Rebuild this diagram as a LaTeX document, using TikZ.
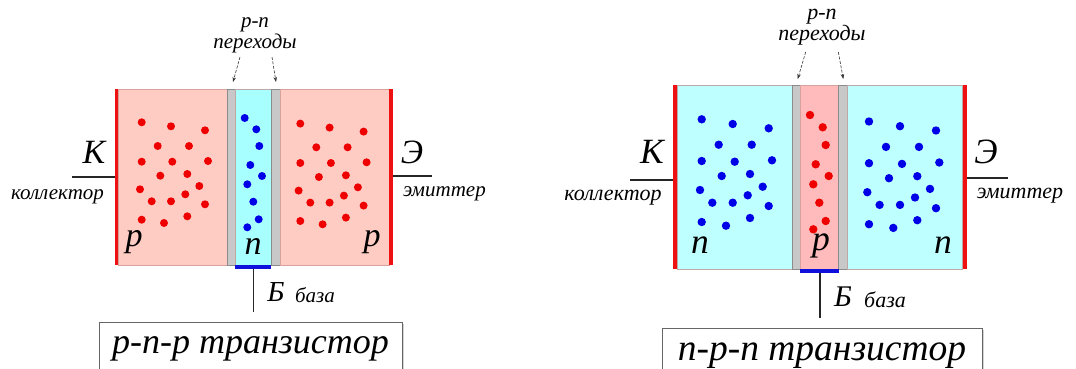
\documentclass[tikz,border=0pt]{standalone}
\usepackage{fontspec}
\setmainfont{Liberation Serif}
\usetikzlibrary{arrows.meta,shadows}

\definecolor{pfill}{HTML}{FFCCC4}
\definecolor{pfillB}{HTML}{FFBBBB}
\definecolor{pedge}{HTML}{D8A29C}
\definecolor{nfill}{HTML}{A8FFFF}
\definecolor{nfillB}{HTML}{BEFFFF}
\definecolor{nedge}{HTML}{C0A8A8}
\definecolor{jfill}{HTML}{C8C8C8}
\definecolor{jedge}{HTML}{8C8C8C}
\definecolor{contact}{HTML}{EE1111}
\definecolor{hole}{HTML}{EE0000}
\definecolor{electron}{HTML}{0000E6}
\definecolor{basecontact}{HTML}{1010DD}

\tikzset{
  pzone/.style={fill=pfill,draw=pedge,line width=0.8pt},
  nzone/.style={fill=nfill,draw=nedge,line width=0.8pt},
  junction/.style={fill=jfill,draw=jedge,line width=0.8pt},
  electrode/.style={fill=contact,draw=none},
  lead/.style={draw=black!85,line width=1.1pt},
  pointer/.style={draw=black!80,line width=0.6pt,dashed,dash pattern=on 3pt off 1.5pt,-{Stealth[length=5pt,width=3.5pt]}},
  lbl/.style={inner sep=0pt},
  term/.style={lbl,font=\fontsize{34}{34}\selectfont\itshape},
  zonelbl/.style={lbl,font=\fontsize{34}{34}\selectfont\itshape},
  small/.style={lbl,font=\fontsize{21}{21}\selectfont\itshape},
  basel/.style={lbl,font=\fontsize{29}{29}\selectfont\itshape},
  titlebox/.style={draw=black!60,fill=white,line width=0.8pt,
    drop shadow={shadow xshift=2pt,shadow yshift=-2pt,opacity=0.35}},
  title/.style={lbl,font=\fontsize{36}{36}\selectfont\itshape},
  holedot/.style={fill=hole,draw=none},
  edot/.style={fill=electron,draw=none},
}

\begin{document}
\begin{tikzpicture}[x=1pt,y=-1pt]
\useasboundingbox (0,0) rectangle (1076,369);
\clip (0,0) rectangle (1076,369);

% ---------------- p-n-p ----------------
\fill[electrode] (114.5,89) rectangle (118.5,265);
\draw[pzone] (118.5,89) rectangle (227,265);
\draw[junction] (227,89) rectangle (235,265);
\draw[nzone] (235,89) rectangle (271,265);
\draw[junction] (271,89) rectangle (280,265);
\draw[pzone] (280,89) rectangle (389,265);
\fill[electrode] (389,89) rectangle (393,265);
\fill[basecontact] (235,265) rectangle (271,268.5);

\foreach \x/\y in {141.7/122.3,171/126.3,205/130.3,157.7/146,189/146,141.7/161.7,
  172.3/161.7,208/161,160.3/175.7,187.3/174,140/189.3,199.3/186,151.7/201.3,
  171/201.3,185.3/194.3,205/204.3,141.7/219.7,164/223,187.3/216.3}
  {\fill[holedot] (\x,\y) circle (4); \fill[holedot] (\x+158.6,\y+1.3) circle (4);}
\foreach \x/\y in {244.7/118,256.3/129.3,259.3/146,250.3/165,262/176,247.3/184.3,
  253.3/201.7,258.7/219.3,247.3/227.3}
  {\fill[edot] (\x,\y) circle (4);}

\node[zonelbl] (a-pl) at (134,242) {p};
\node[zonelbl] (a-n) at (253,246) {n};
\node[zonelbl] (a-pr) at (372,242) {p};

\coordinate (a-kend) at (72,177);
\coordinate (a-kbar) at (114.5,177);
\node[term] (a-k) at (94,152) {К};
\node[small] (a-kname) at (57.5,197) {коллектор};
\draw[lead] (a-kend) -- (a-kbar);

\coordinate (a-ebar) at (393,176);
\coordinate (a-eend) at (432,176);
\node[term] (a-e) at (412,152) {Э};
\node[small] (a-ename) at (444.5,194) {эмиттер};
\draw[lead] (a-ebar) -- (a-eend);

\coordinate (a-btop) at (253.5,268.5);
\coordinate (a-bend) at (253.5,312);
\draw[lead] (a-btop) -- (a-bend);
\node[basel] (a-b) at (276,292) {Б};
\node[small] (a-bname) at (315,295) {база};

\node[small] (a-pn) at (255,25) {p-n};
\node[small] (a-jn) at (255,43) {переходы};
\coordinate (a-j1) at (233,82);
\coordinate (a-j2) at (276,82);
\draw[pointer] (240,57) -- (a-j1);
\draw[pointer] (272,57) -- (a-j2);

\draw[titlebox] (99,322) rectangle (402,385);
\node[title] (a-title) at (250.5,349) {p-n-p транзистор};

% ---------------- n-p-n ----------------
\begin{scope}[nzone/.append style={fill=nfillB},pzone/.append style={fill=pfillB}]
\fill[electrode] (672.5,85) rectangle (677,269);
\draw[nzone] (677,85) rectangle (792,269);
\draw[junction] (792,85) rectangle (800,269);
\draw[pzone] (800,85) rectangle (838.5,269);
\draw[junction] (838.5,85) rectangle (847,269);
\draw[nzone] (847,85) rectangle (962.5,269);
\fill[electrode] (962.5,85) rectangle (967,269);
\fill[basecontact] (800,269) rectangle (838.5,273);
\end{scope}

\foreach \x/\y in {701.7/119.3,732.7/124,768.7/128.3,718.7/144.7,751.7/144.7,
  701.7/161,734.7/161.7,772/160.3,721.7/176,750/174,700/190,762.7/186.7,
  712.3/202.7,732.7/202.7,747.7/195.3,768.7/206,701.7/222,726/225.7,750/218}
  {\fill[edot] (\x,\y) circle (4.2); \fill[edot] (\x+167.3,\y+2.2) circle (4.2);}
\foreach \x/\y in {810/115,822.7/127.3,825.7/145,815.7/164.3,828.7/176,813.3/184.3,
  819.3/202.7,825.7/221,813.3/229.3}
  {\fill[holedot] (\x,\y) circle (4.2);}

\begin{scope}[
  term/.append style={font=\fontsize{35.5}{35.5}\selectfont\itshape},
  zonelbl/.append style={font=\fontsize{35.5}{35.5}\selectfont\itshape},
  small/.append style={font=\fontsize{22}{22}\selectfont\itshape},
  basel/.append style={font=\fontsize{30}{30}\selectfont\itshape},
  title/.append style={font=\fontsize{37.5}{37.5}\selectfont\itshape}]
\node[zonelbl] (b-nl) at (700,245) {n};
\node[zonelbl] (b-p) at (821,246) {p};
\node[zonelbl] (b-nr) at (943,245) {n};

\coordinate (b-kend) at (630,180);
\coordinate (b-kbar) at (672.5,180);
\node[term] (b-k) at (652,152) {К};
\node[small] (b-kname) at (613,198) {коллектор};
\draw[lead] (b-kend) -- (b-kbar);

\coordinate (b-ebar) at (967,178);
\coordinate (b-eend) at (1008,178);
\node[term] (b-e) at (986,152) {Э};
\node[small] (b-ename) at (1020,196) {эмиттер};
\draw[lead] (b-ebar) -- (b-eend);

\coordinate (b-btop) at (820,273);
\coordinate (b-bend) at (820,318);
\draw[lead] (b-btop) -- (b-bend);
\node[basel] (b-b) at (843,297) {Б};
\node[small] (b-bname) at (885,300) {база};

\node[small] (b-pn) at (822,17) {p-n};
\node[small] (b-jn) at (822,35) {переходы};
\coordinate (b-j1) at (797.7,79);
\coordinate (b-j2) at (843.3,79);
\draw[pointer] (805.7,52) -- (b-j1);
\draw[pointer] (838.3,52) -- (b-j2);

\draw[titlebox] (662,328) rectangle (982,390);
\node[title] (b-title) at (822,356) {n-p-n транзистор};
\end{scope}
\end{tikzpicture}
\end{document}
